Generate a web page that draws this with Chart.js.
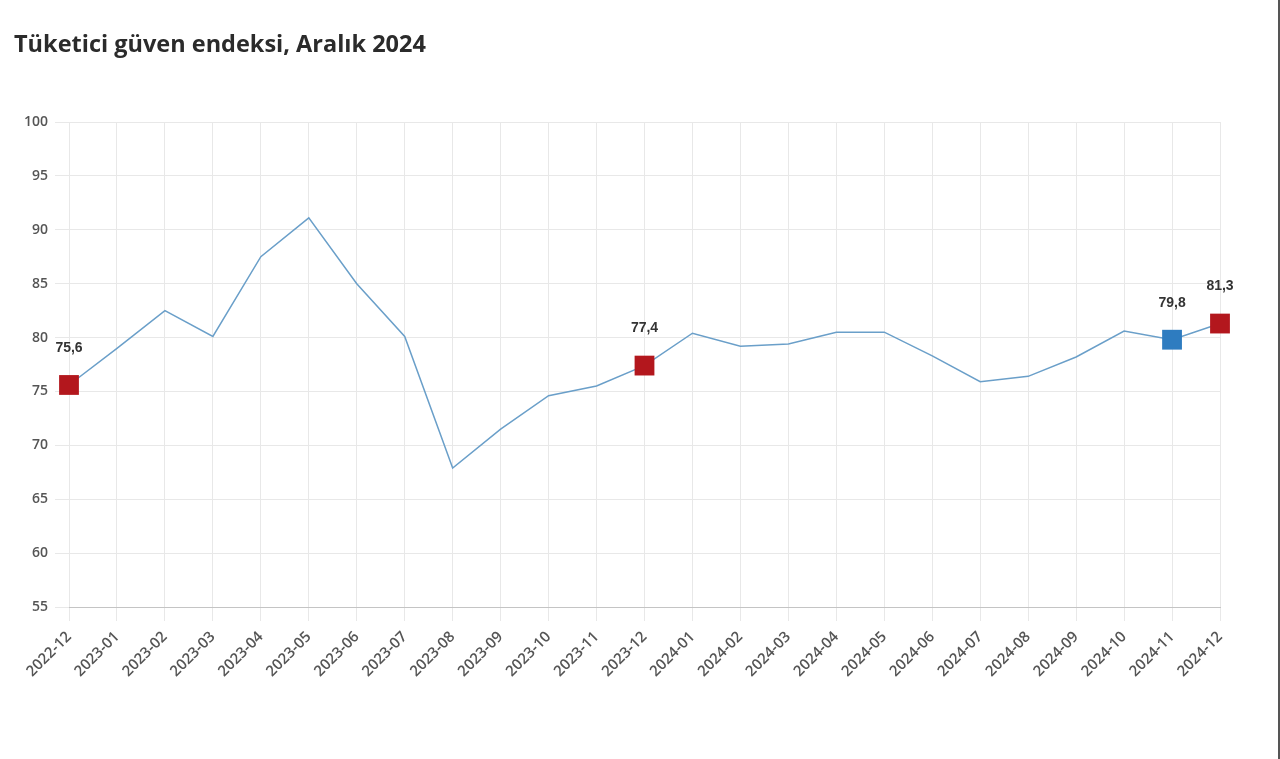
<!DOCTYPE html>
<html lang="tr">
<head>
<meta charset="utf-8">
<title>Tüketici güven endeksi</title>
<script src="https://cdn.jsdelivr.net/npm/chart.js@4"></script>
<style>
  html, body { margin: 0; padding: 0; background: #fff; }
  #wrap { position: relative; width: 1280px; height: 759px; overflow: hidden; }
  #title {
    position: absolute; left: 14px; top: 27px;
    font: bold 23.5px "Open Sans", sans-serif; color: #2b2b2b;
  }
  #edge { position: absolute; right: 0; top: 0; width: 2px; height: 759px; background: #555; }
  canvas { position: absolute; left: 0; top: 0; }
</style>
</head>
<body>
<div id="wrap">
  <canvas id="chart" width="1280" height="759"></canvas>
  <div id="title">Tüketici güven endeksi, Aralık 2024</div>
  <div id="edge"></div>
</div>
<script>
// months on the x axis
const months = [
  "2022-12", "2023-01", "2023-02", "2023-03", "2023-04", "2023-05", "2023-06",
  "2023-07", "2023-08", "2023-09", "2023-10", "2023-11", "2023-12", "2024-01",
  "2024-02", "2024-03", "2024-04", "2024-05", "2024-06", "2024-07", "2024-08",
  "2024-09", "2024-10", "2024-11", "2024-12",
];

// consumer confidence index
const index = [
  75.6, 79.0, 82.5, 80.1, 87.5, 91.1, 85.0, 80.1, 67.9, 71.5, 74.6, 75.5, 77.4,
  80.4, 79.2, 79.4, 80.5, 80.5, 78.3, 75.9, 76.4, 78.2, 80.6, 79.8, 81.3,
];

// months that get a marker and a value label
const redMonths = ["2022-12", "2023-12", "2024-12"];
const blueMonths = ["2024-11"];

const RED = "#b3171d";
const BLUE = "#2e7cc0";

function markerColor(i) {
  if (redMonths.includes(months[i])) return RED;
  if (blueMonths.includes(months[i])) return BLUE;
  return "transparent";
}

function hasMarker(i) {
  return redMonths.includes(months[i]) || blueMonths.includes(months[i]);
}

// draws the value above each marked point
const valueLabels = {
  id: "valueLabels",
  afterDatasetsDraw(chart) {
    const ctx = chart.ctx;
    const meta = chart.getDatasetMeta(0);
    ctx.save();
    ctx.font = "bold 14px 'Liberation Sans', Arial, sans-serif";
    ctx.fillStyle = "#333";
    ctx.textAlign = "center";
    ctx.textBaseline = "middle";
    meta.data.forEach((pt, i) => {
      if (!hasMarker(i)) return;
      ctx.fillText(index[i].toFixed(1).replace(".", ","), pt.x, pt.y - 37);
    });
    ctx.restore();
  },
};

new Chart(document.getElementById("chart"), {
  type: "line",
  data: {
    labels: months,
    datasets: [
      {
        data: index,
        borderColor: "#6a9fc9",
        borderWidth: 1.5,
        tension: 0,
        pointStyle: "rect",
        pointRadius: months.map((m, i) => (hasMarker(i) ? 14 : 0)),
        pointHoverRadius: months.map((m, i) => (hasMarker(i) ? 14 : 0)),
        pointBackgroundColor: months.map((m, i) => markerColor(i)),
        pointBorderColor: months.map((m, i) => markerColor(i)),
        pointBorderWidth: 0,
      },
    ],
  },
  options: {
    responsive: false,
    animation: false,
    plugins: {
      legend: { display: false },
      tooltip: { enabled: false },
    },
    layout: { padding: { top: 122, left: 0, right: 60, bottom: 52 } },
    scales: {
      x: {
        offset: false,
        afterFit: (scale) => { scale.height = 100; },
        grid: { color: "#e8e8e8", tickLength: 14, lineWidth: 1 },
        border: { color: "#c4c4c4" },
        ticks: {
          minRotation: 45,
          maxRotation: 45,
          padding: 7,
          color: "#555",
          font: { family: "'Open Sans', sans-serif", size: 15, weight: "600" },
        },
      },
      y: {
        min: 55,
        max: 100,
        afterFit: (scale) => { scale.width = 69; },
        grid: { color: "#e8e8e8", tickLength: 14 },
        border: { display: false },
        ticks: {
          stepSize: 5,
          padding: 7,
          color: "#555",
          font: { family: "'Open Sans', sans-serif", size: 14, weight: "600" },
        },
      },
    },
  },
  plugins: [valueLabels],
});
</script>
</body>
</html>
